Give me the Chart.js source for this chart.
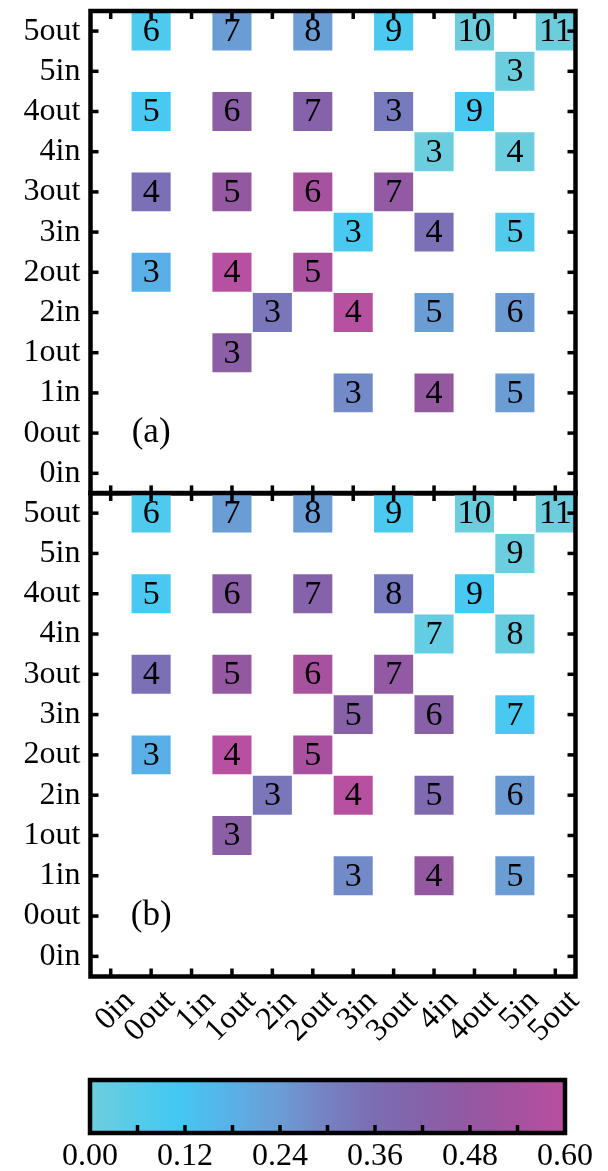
<!DOCTYPE html>
<html>
<head>
<meta charset="utf-8">
<script src="https://cdn.jsdelivr.net/npm/chart.js@4"></script>
<style>
  body { margin: 0; background: #fff; }
  #wrap { position: relative; width: 608px; height: 1171px; }
  canvas { position: absolute; left: 0; }
</style>
</head>
<body>
<div id="wrap">
  <canvas id="panel-a" width="608" height="500" style="top:0px"></canvas>
  <canvas id="panel-b" width="608" height="583" style="top:482px"></canvas>
  <canvas id="colorbar" width="608" height="111" style="top:1060px"></canvas>
</div>
<script>
// categories (same on both axes)
const states = ['0in', '0out', '1in', '1out', '2in', '2out', '3in', '3out', '4in', '4out', '5in', '5out'];

// panel (a): one entry per coloured cell
const aCol = ['0out', '1out', '2out', '3out', '4out', '5out',
              '5in',
              '0out', '1out', '2out', '3out', '4out',
              '4in', '5in',
              '0out', '1out', '2out', '3out',
              '3in', '4in', '5in',
              '0out', '1out', '2out',
              '2in', '3in', '4in', '5in',
              '1out',
              '3in', '4in', '5in'];
const aRow = ['5out', '5out', '5out', '5out', '5out', '5out',
              '5in',
              '4out', '4out', '4out', '4out', '4out',
              '4in', '4in',
              '3out', '3out', '3out', '3out',
              '3in', '3in', '3in',
              '2out', '2out', '2out',
              '2in', '2in', '2in', '2in',
              '1out',
              '1in', '1in', '1in'];
const aCount = [6, 7, 8, 9, 10, 11,
                3,
                5, 6, 7, 3, 9,
                3, 4,
                4, 5, 6, 7,
                3, 4, 5,
                3, 4, 5,
                3, 4, 5, 6,
                3,
                3, 4, 5];
const aValue = [0.08, 0.24, 0.24, 0.09, 0.005, 0.005,
                0.01,
                0.10, 0.44, 0.42, 0.32, 0.10,
                0.01, 0.01,
                0.35, 0.48, 0.54, 0.47,
                0.10, 0.35, 0.07,
                0.18, 0.59, 0.545,
                0.33, 0.59, 0.24, 0.245,
                0.44,
                0.28, 0.48, 0.24];

// panel (b)
const bCol = aCol;
const bRow = aRow;
const bCount = [6, 7, 8, 9, 10, 11,
                9,
                5, 6, 7, 8, 9,
                7, 8,
                4, 5, 6, 7,
                5, 6, 7,
                3, 4, 5,
                3, 4, 5, 6,
                3,
                3, 4, 5];
const bValue = [0.08, 0.24, 0.24, 0.09, 0.005, 0.005,
                0.01,
                0.10, 0.44, 0.42, 0.32, 0.10,
                0.03, 0.02,
                0.35, 0.48, 0.54, 0.47,
                0.43, 0.43, 0.10,
                0.18, 0.59, 0.545,
                0.33, 0.59, 0.38, 0.245,
                0.44,
                0.28, 0.48, 0.24];

// colour bar
const cbMin = 0, cbMax = 0.6;
const cbTickValues = [0, 0.06, 0.12, 0.18, 0.24, 0.30, 0.36, 0.42, 0.48, 0.54, 0.60];
const cbTickLabels = ['0.00', '', '0.12', '', '0.24', '', '0.36', '', '0.48', '', '0.60'];

// colormap stops
const cmapValues = [0, 0.06, 0.11, 0.18, 0.24, 0.30, 0.36, 0.42, 0.48, 0.54, 0.60];
const cmapColors = ['#6ecedc', '#55cbea', '#44c8f3', '#5ab0e6', '#6b9dd5', '#7581c2',
                    '#7c6db2', '#8562a9', '#9458a1', '#a6529f', '#b94f9f'];

const FONT = '"Liberation Serif", "Times New Roman", serif';

function hexRgb(h) {
  return [parseInt(h.slice(1, 3), 16), parseInt(h.slice(3, 5), 16), parseInt(h.slice(5, 7), 16)];
}
function cmap(v) {
  if (v <= cmapValues[0]) return cmapColors[0];
  for (let i = 1; i < cmapValues.length; i++) {
    if (v <= cmapValues[i]) {
      const t = (v - cmapValues[i - 1]) / (cmapValues[i] - cmapValues[i - 1]);
      const c0 = hexRgb(cmapColors[i - 1]), c1 = hexRgb(cmapColors[i]);
      const c = c0.map((x, k) => Math.round(x + (c1[k] - x) * t));
      return 'rgb(' + c.join(',') + ')';
    }
  }
  return cmapColors[cmapColors.length - 1];
}

function line(ctx, x0, y0, x1, y1) {
  ctx.beginPath(); ctx.moveTo(x0, y0); ctx.lineTo(x1, y1); ctx.stroke();
}

// numbers in cells, panel letter, frame and inward ticks
const panelDeco = {
  id: 'panelDeco',
  afterDatasetsDraw(chart, args, opts) {
    const { ctx, chartArea: a } = chart;
    const xs = chart.scales.x, ys = chart.scales.y;
    const meta = chart.getDatasetMeta(0);

    ctx.save();
    ctx.beginPath();
    ctx.rect(a.left, a.top, a.width, a.height);
    ctx.clip();
    ctx.fillStyle = '#000';
    ctx.textAlign = 'center';
    ctx.textBaseline = 'middle';
    ctx.font = '34px ' + FONT;
    meta.data.forEach((bar, i) => {
      ctx.fillText(String(opts.counts[i]), bar.x, (bar.y + bar.base) / 2 + 1);
    });
    ctx.font = '35px ' + FONT;
    ctx.fillText(opts.letter, xs.getPixelForValue(states.indexOf('0out')),
                 ys.getPixelForValue(states.indexOf('0out')));
    ctx.restore();

    ctx.save();
    ctx.strokeStyle = '#000';
    ctx.lineWidth = 3.5;
    const L = 8;
    xs.ticks.forEach((t, i) => {
      const p = xs.getPixelForTick(i);
      line(ctx, p, a.top, p, a.top + L);
      line(ctx, p, a.bottom, p, a.bottom - L);
    });
    ys.ticks.forEach((t, i) => {
      const p = ys.getPixelForTick(i);
      line(ctx, a.left, p, a.left + L, p);
      line(ctx, a.right, p, a.right - L, p);
    });
    ctx.lineWidth = 4.5;
    ctx.strokeRect(a.left, a.top, a.width, a.height);
    ctx.restore();
  }
};

function panel(id, cols, rows, counts, values, letter, showX, xHeight) {
  const rowIdx = rows.map(r => states.indexOf(r));
  return new Chart(document.getElementById(id), {
    type: 'bar',
    data: {
      labels: states,
      datasets: [{
        data: cols.map((c, i) => ({ x: c, y: [rowIdx[i] - 0.5, rowIdx[i] + 0.5] })),
        backgroundColor: values.map(cmap),
        borderColor: 'rgba(255,255,255,0.35)',
        borderWidth: 1,
        borderSkipped: false,
        barPercentage: 1,
        categoryPercentage: 1,
        grouped: false
      }]
    },
    options: {
      responsive: false,
      animation: false,
      layout: { padding: { top: 11, right: 32.5, left: 0, bottom: 0 } },
      plugins: {
        legend: { display: false },
        tooltip: { enabled: false },
        panelDeco: { counts: counts, letter: letter }
      },
      scales: {
        x: {
          type: 'category',
          grid: { display: false, drawTicks: false },
          border: { display: false },
          ticks: {
            display: showX,
            autoSkip: false,
            minRotation: 45,
            maxRotation: 45,
            padding: 6,
            labelOffset: 19,
            color: '#000',
            font: { family: FONT, size: 32 }
          },
          afterFit: s => { s.height = xHeight; s.paddingLeft = 0; s.paddingRight = 0; }
        },
        y: {
          type: 'linear',
          min: -0.5,
          max: 11.5,
          afterBuildTicks: s => { s.ticks = states.map((_, i) => ({ value: i })); },
          grid: { display: false, drawTicks: false },
          border: { display: false },
          ticks: {
            callback: v => states[v],
            padding: 10,
            color: '#000',
            font: { family: FONT, size: 32 }
          },
          afterFit: s => { s.width = 90.5; s.paddingTop = 0; s.paddingBottom = 0; }
        }
      }
    },
    plugins: [panelDeco]
  });
}

panel('panel-a', aCol, aRow, aCount, aValue, '(a)', false, 6.6);
panel('panel-b', bCol, bRow, bCount, bValue, '(b)', true, 88.5);

const colorbarDeco = {
  id: 'colorbarDeco',
  afterDatasetsDraw(chart) {
    const { ctx, chartArea: a } = chart;
    const xs = chart.scales.x;
    ctx.save();
    ctx.strokeStyle = '#000';
    ctx.lineWidth = 3.5;
    xs.ticks.forEach((t, i) => {
      const p = xs.getPixelForTick(i);
      line(ctx, p, a.bottom, p, a.bottom - 8);
    });
    ctx.lineWidth = 4.5;
    ctx.strokeRect(a.left, a.top, a.width, a.height);
    ctx.restore();
  }
};

new Chart(document.getElementById('colorbar'), {
  type: 'bar',
  data: {
    labels: [''],
    datasets: [{
      data: [[cbMin, cbMax]],
      backgroundColor: c => {
        const area = c.chart.chartArea;
        if (!area) return cmapColors[0];
        const g = c.chart.ctx.createLinearGradient(area.left, 0, area.right, 0);
        cmapValues.forEach((v, i) => g.addColorStop((v - cbMin) / (cbMax - cbMin), cmapColors[i]));
        return g;
      },
      borderWidth: 0,
      barPercentage: 1,
      categoryPercentage: 1
    }]
  },
  options: {
    indexAxis: 'y',
    responsive: false,
    animation: false,
    layout: { padding: { left: 90, right: 43, top: 20, bottom: 0 } },
    plugins: { legend: { display: false }, tooltip: { enabled: false } },
    scales: {
      x: {
        type: 'linear',
        min: cbMin,
        max: cbMax,
        afterBuildTicks: s => { s.ticks = cbTickValues.map(v => ({ value: v })); },
        grid: { display: false, drawTicks: false },
        border: { display: false },
        ticks: {
          callback: (v, i) => cbTickLabels[i],
          autoSkip: false,
          maxRotation: 0,
          padding: 4,
          color: '#000',
          font: { family: FONT, size: 32 }
        },
        afterFit: s => { s.height = 38; }
      },
      y: { display: false }
    }
  },
  plugins: [colorbarDeco]
});
</script>
</body>
</html>
